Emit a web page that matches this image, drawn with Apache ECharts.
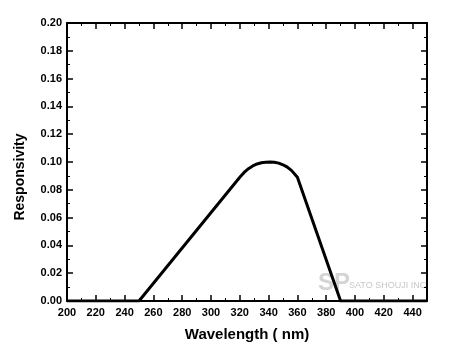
<!DOCTYPE html>
<html><head><meta charset="utf-8">
<script src="https://cdn.jsdelivr.net/npm/echarts@6/dist/echarts.min.js"></script>
<style>html,body{margin:0;padding:0;background:#fff}#c{width:450px;height:360px}</style>
</head><body><div id="c"></div>
<script>
const wavelength = [200, 250, 320, 323, 326, 329, 332, 335, 338, 341, 344, 347, 350, 353, 356, 360, 390, 450];
const responsivity = [0, 0, 0.089, 0.0925, 0.0952, 0.0972, 0.0986, 0.0995, 0.0999, 0.1, 0.0998, 0.0992, 0.098, 0.0963, 0.0938, 0.089, 0, 0];
const xTitle = 'Wavelength ( nm)';
const yTitle = 'Responsivity';

const font = 'Liberation Sans';
const chart = echarts.init(document.getElementById('c'), null, {renderer: 'canvas'});
const axisBase = {
  axisLine: {show: true, onZero: false, lineStyle: {color: '#000', width: 2}},
  axisTick: {show: true, inside: true, length: 6, lineStyle: {color: '#000', width: 1.5}},
  minorTick: {show: true, splitNumber: 2, length: 3, lineStyle: {color: '#000', width: 1}},
  splitLine: {show: false},
  minorSplitLine: {show: false}
};
const xBase = Object.assign({type: 'value', min: 200, max: 450, interval: 20}, axisBase);
const yBase = Object.assign({type: 'value', min: 0, max: 0.2, interval: 0.02}, axisBase);
chart.setOption({
  animation: false,
  backgroundColor: '#fff',
  grid: {left: 67, right: 23, top: 23, bottom: 59},
  xAxis: [
    Object.assign({}, xBase, {position: 'bottom',
      axisLabel: {show: true, showMaxLabel: false, margin: 6, color: '#000', fontFamily: font, fontWeight: 'bold', fontSize: 11},
      name: xTitle, nameLocation: 'middle', nameGap: 26,
      nameTextStyle: {color: '#000', fontFamily: font, fontWeight: 'bold', fontSize: 15}}),
    Object.assign({}, xBase, {position: 'top', axisLabel: {show: false}})
  ],
  yAxis: [
    Object.assign({}, yBase, {position: 'left',
      axisLabel: {show: true, margin: 5, color: '#000', fontFamily: font, fontWeight: 'bold', fontSize: 11,
        formatter: v => v.toFixed(2)}}),
    Object.assign({}, yBase, {position: 'right', axisLabel: {show: false}})
  ],
  graphic: [
    {type: 'text', x: 20, y: 177, rotation: Math.PI / 2, style: {text: yTitle, fill: '#000',
      font: 'bold 14px "Liberation Sans"', textAlign: 'center', textVerticalAlign: 'middle'}},
    {type: 'text', x: 318, y: 271, style: {text: 'SP', fill: '#d4d4d4',
      font: 'bold 24px "Liberation Sans"'}},
    {type: 'text', x: 349, y: 281, style: {text: 'SATO SHOUJI INC.', fill: '#c8c8c8',
      font: '9px "Liberation Sans"'}}
  ],
  series: [{
    type: 'line', xAxisIndex: 0, yAxisIndex: 0,
    data: wavelength.map((w, i) => [w, responsivity[i]]),
    showSymbol: false,
    lineStyle: {color: '#000', width: 3, join: 'round'}
  }]
});
</script></body></html>
